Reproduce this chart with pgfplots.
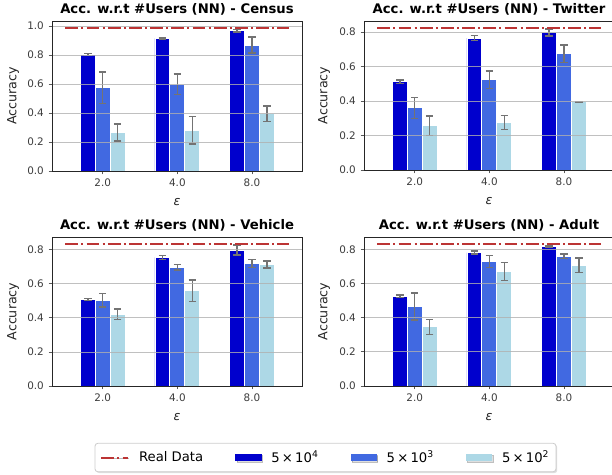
\documentclass[border=0pt]{standalone}
\usepackage{fontspec}
\setmainfont{DejaVu Sans}
\usepackage{pgfplots}
\pgfplotsset{compat=1.18}
\usetikzlibrary{shadows}
\definecolor{c1}{RGB}{0,0,205}
\definecolor{c2}{RGB}{65,105,225}
\definecolor{c3}{RGB}{173,216,230}
\definecolor{rd}{RGB}{188,52,52}
\definecolor{gridc}{RGB}{176,176,176}
\definecolor{errc}{RGB}{115,115,115}
\definecolor{tc}{RGB}{60,60,60}
\pgfplotsset{
 myax/.style={
  scale only axis, width=187.5pt, xmin=-0.68, xmax=2.67, ymin=0,
  xtick={0,1,2}, xticklabels={2.0,4.0,8.0},
  axis on top,
  ymajorgrids, grid style={gridc, line width=0.6pt, opacity=0.8},
  axis line style={line width=0.6pt, black!85},
  tick align=outside, xtick pos=bottom, ytick pos=left,
  major tick length=2.6pt,
  tick style={black!65, line width=0.6pt},
  ticklabel style={font=\fontsize{7.8}{9}\selectfont, text=tc},
  /pgf/number format/assume math mode=true,
  yticklabel style={/pgf/number format/.cd, fixed, fixed zerofill, precision=1},
  title style={font=\bfseries\fontsize{9.9}{12}\selectfont, yshift=-5.5pt},
  label style={font=\fontsize{9.5}{11}\selectfont, text=black!85},
  xlabel={\textit{ε}},
  ylabel={Accuracy},
  ylabel style={at={(axis description cs:-0.156,0.5)}, anchor=center, rotate=0},
  xlabel style={at={(axis description cs:0.5,-0.205)}, anchor=center},
 },
 bs/.style={ybar, bar width=0.2, bar shift=0, fill=#1, draw=white, line width=0.7pt,
   error bars/.cd, y dir=both, y explicit,
   error bar style={errc, line width=1.1pt},
   error mark options={errc, line width=1.1pt, mark size=2.8pt, rotate=90}},
 rl/.style={rd, line width=1.5pt, dash pattern=on 9.6pt off 2.4pt on 1.5pt off 2.4pt, sharp plot, forget plot}
}
\begin{document}
\begin{tikzpicture}
\useasboundingbox (0,0) rectangle (459pt,356.25pt);
% Census
\begin{axis}[myax, at={(39pt,228pt)}, anchor=south west, height=112.5pt, ymax=1.035,
  ytick={0,0.2,0.4,0.6,0.8,1.0}, title={Acc. w.r.t \#Users (NN) - Census}]
\addplot[bs={c1}] coordinates {(-0.2,0.804) +- (0,0.008) (0.8,0.915) +- (0,0.005) (1.8,0.968) +- (0,0.008)};
\addplot[bs={c2}] coordinates {(0,0.574) +- (0,0.108) (1,0.599) +- (0,0.07) (2,0.869) +- (0,0.055)};
\addplot[bs={c3}] coordinates {(0.2,0.265) +- (0,0.058) (1.2,0.281) +- (0,0.094) (2.2,0.396) +- (0,0.054)};
\addplot[rl] coordinates {(-0.5,0.986) (2.5,0.986)};
\end{axis}
% Twitter
\begin{axis}[myax, at={(273pt,228.75pt)}, anchor=south west, height=111.75pt, ymax=0.864,
  ytick={0,0.2,0.4,0.6,0.8}, title={Acc. w.r.t \#Users (NN) - Twitter},
  ylabel style={at={(axis description cs:-0.16,0.5)}}]
\addplot[bs={c1}] coordinates {(-0.2,0.512) +- (0,0.01) (0.8,0.765) +- (0,0.015) (1.8,0.798) +- (0,0.02)};
\addplot[bs={c2}] coordinates {(0,0.360) +- (0,0.06) (1,0.523) +- (0,0.05) (2,0.674) +- (0,0.05)};
\addplot[bs={c3}] coordinates {(0.2,0.256) +- (0,0.056) (1.2,0.275) +- (0,0.04) (2.2,0.395) +- (0,0.002)};
\addplot[rl] coordinates {(-0.5,0.823) (2.5,0.823)};
\end{axis}
% Vehicle
\begin{axis}[myax, at={(39pt,66.75pt)}, anchor=south west, height=111.75pt, ymax=0.875,
  ytick={0,0.2,0.4,0.6,0.8}, title={Acc. w.r.t \#Users (NN) - Vehicle},
  legend style={at={(axis description cs:1.094,-0.48)}, anchor=center,
    draw=black!20, rounded corners=2pt, line width=0.6pt,
    drop shadow={opacity=0.25, shadow xshift=1pt, shadow yshift=-1pt},
    font=\fontsize{9.9}{12}\selectfont, inner xsep=4pt, inner ysep=4.5pt,
    nodes={inner sep=1pt},
    /tikz/every odd column/.append style={column sep=6.5pt},
    /tikz/every even column/.append style={column sep=23pt}},
  legend columns=4]
\addlegendimage{legend image code/.code={\draw[rd, sharp corners, line width=1.5pt, dash pattern=on 9.6pt off 2.4pt on 1.5pt off 2.4pt] (0pt,0pt) -- (20pt,0pt);}}
\addlegendentry{Real Data}
\addlegendimage{legend image code/.code={\fill[c1, sharp corners] (0pt,-2.5pt) rectangle (19pt,2.5pt);}}
\addlegendentry{5\,×\,10\textsuperscript{4}}
\addlegendimage{legend image code/.code={\fill[c2, sharp corners] (0pt,-2.5pt) rectangle (19pt,2.5pt);}}
\addlegendentry{5\,×\,10\textsuperscript{3}}
\addlegendimage{legend image code/.code={\fill[c3, sharp corners] (0pt,-2.5pt) rectangle (19pt,2.5pt);}}
\addlegendentry{5\,×\,10\textsuperscript{2}}
\addplot[forget plot, bs={c1}] coordinates {(-0.2,0.509) +- (0,0.006) (0.8,0.755) +- (0,0.012) (1.8,0.798) +- (0,0.03)};
\addplot[forget plot, bs={c2}] coordinates {(0,0.503) +- (0,0.04) (1,0.697) +- (0,0.017) (2,0.720) +- (0,0.023)};
\addplot[forget plot, bs={c3}] coordinates {(0.2,0.421) +- (0,0.03) (1.2,0.560) +- (0,0.063) (2.2,0.714) +- (0,0.02)};
\addplot[rl] coordinates {(-0.5,0.833) (2.5,0.833)};
\end{axis}
% Adult
\begin{axis}[myax, at={(273pt,66.75pt)}, anchor=south west, height=111.75pt, ymax=0.873,
  ytick={0,0.2,0.4,0.6,0.8}, title={Acc. w.r.t \#Users (NN) - Adult},
  ylabel style={at={(axis description cs:-0.16,0.5)}}]
\addplot[bs={c1}] coordinates {(-0.2,0.525) +- (0,0.008) (0.8,0.782) +- (0,0.008) (1.8,0.816) +- (0,0.005)};
\addplot[bs={c2}] coordinates {(0,0.466) +- (0,0.08) (1,0.730) +- (0,0.035) (2,0.761) +- (0,0.013)};
\addplot[bs={c3}] coordinates {(0.2,0.347) +- (0,0.044) (1.2,0.671) +- (0,0.054) (2.2,0.708) +- (0,0.043)};
\addplot[rl] coordinates {(-0.5,0.831) (2.5,0.831)};
\end{axis}
\end{tikzpicture}
\end{document}
